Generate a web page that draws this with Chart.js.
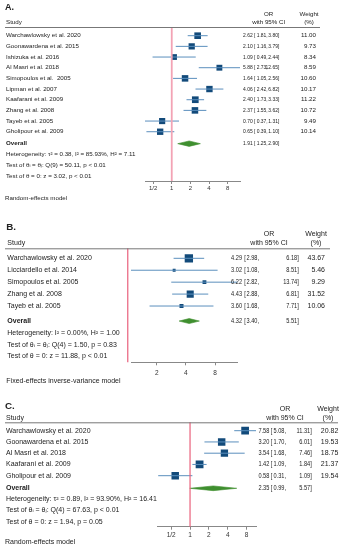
<!DOCTYPE html>
<html lang="en">
<head>
    <meta charset="UTF-8">
    <title>Forest plots</title>
    <script src="https://cdn.jsdelivr.net/npm/chart.js"></script>
    <style>
        body { margin: 0; background: #fff; }
        #wrap { position: relative; width: 345px; height: 550px; }
        canvas { position: absolute; left: 0; top: 0; }
    </style>
</head>
<body>
<div id="wrap">
    <canvas id="panelA" width="345" height="550"></canvas>
    <canvas id="panelB" width="345" height="550"></canvas>
    <canvas id="panelC" width="345" height="550"></canvas>
</div>
<script>
    // --- data: panel A (random-effects) ---
    const studiesA = ['Warchawlowsky et al. 2020', 'Goonawardena et al. 2015', 'Ishizuka et al. 2016', 'Al Masri et al. 2018',
        'Simopoulos et al.  2005', 'Lipman et al. 2007', 'Kaafarani et al. 2009', 'Zhang et al. 2008', 'Tayeb et al. 2005', 'Gholipour et al. 2009'];
    const orA = [2.62, 2.10, 1.09, 5.88, 1.64, 4.06, 2.40, 2.37, 0.70, 0.65];
    const loA = [1.81, 1.16, 0.49, 2.73, 1.05, 2.42, 1.73, 1.55, 0.37, 0.39];
    const hiA = [3.80, 3.79, 2.44, 12.65, 2.56, 6.82, 3.33, 3.62, 1.31, 1.10];
    const weightA = [11.00, 9.73, 8.34, 8.59, 10.60, 10.17, 11.22, 10.72, 9.49, 10.14];
    const overallA = [1.91, 1.25, 2.90];
    const statsA = ['Heterogeneity: \u03c4\u00b2 = 0.38, I\u00b2 = 85.93%, H\u00b2 = 7.11',
        'Test of \u03b8\u1d62 = \u03b8\u2c7c: Q(9) = 50.11, p < 0.01',
        'Test of \u03b8 = 0: z = 3.02, p < 0.01'];
    const ticksA = [0.5, 1, 2, 4, 8];

    // --- data: panel B (fixed-effects) ---
    const studiesB = ['Warchawlowsky et al. 2020', 'Licciardello et al. 2014', 'Simopoulos et al. 2005', 'Zhang et al. 2008', 'Tayeb et al. 2005'];
    const orB = [4.29, 3.02, 6.22, 4.43, 3.60];
    const loB = [2.98, 1.08, 2.82, 2.88, 1.68];
    const hiB = [6.18, 8.51, 13.74, 6.81, 7.71];
    const weightB = [43.67, 5.46, 9.29, 31.52, 10.06];
    const overallB = [4.32, 3.40, 5.51];
    const statsB = ['Heterogeneity: I\u00b2 = 0.00%, H\u00b2 = 1.00',
        'Test of \u03b8\u1d62 = \u03b8\u2c7c: Q(4) = 1.50, p = 0.83',
        'Test of \u03b8 = 0: z = 11.88, p < 0.01'];
    const ticksB = [2, 4, 8];

    // --- data: panel C (random-effects) ---
    const studiesC = ['Warchawlowsky et al. 2020', 'Goonawardena et al. 2015', 'Al Masri et al. 2018', 'Kaafarani et al. 2009', 'Gholipour et al. 2009'];
    const orC = [7.58, 3.20, 3.54, 1.42, 0.58];
    const loC = [5.08, 1.70, 1.68, 1.09, 0.31];
    const hiC = [11.31, 6.01, 7.46, 1.84, 1.09];
    const weightC = [20.82, 19.53, 18.75, 21.37, 19.54];
    const overallC = [2.35, 0.99, 5.57];
    const statsC = ['Heterogeneity: \u03c4\u00b2 = 0.89, I\u00b2 = 93.90%, H\u00b2 = 16.41',
        'Test of \u03b8\u1d62 = \u03b8\u2c7c: Q(4) = 67.63, p < 0.01',
        'Test of \u03b8 = 0: z = 1.94, p = 0.05'];
    const ticksC = [0.5, 1, 2, 4, 8];

    const FONT = '"Liberation Sans", Arial, "DejaVu Sans", sans-serif';
    const TXT = '#222';
    const SQ = '#124a7a';
    const CI = '#5b8fbd';
    const GREEN = '#3f8f2f';
    const AXIS_H = 16;
    const NUM_SX = 0.8; // the CI column is set a bit narrower in the figure

    // layout of each panel on the page (pixels)
    const panels = [
        { id: 'panelA', label: 'A.', studies: studiesA, or: orA, lo: loA, hi: hiA, weight: weightA, overall: overallA, stats: statsA, ticks: ticksA,
          footer: 'Random-effects model', left: 145, right: 240, top: 27, bottom: 181, row0: 35.7, rowGap: 10.67,
          overallGap: 1.12, statOff: [1.0, 2.03, 3.03], diamondHalf: 2.7, sq: 2.0, fs: 6.2, tickFs: 6, tickPad: 1,
          nullColor: '#f3a3b5', nullWidth: 1.8,
          yLabel: 8, yOR: 14, yStudy: 22.7, yFooter: 198.7, lineRight: 320,
          xName: 6, estR: 252.7, brL: 254, loR: 267.7, hiR: 279.3, wR: 316, orC: 268.7, wC: 309 },
        { id: 'panelB', label: 'B.', studies: studiesB, or: orB, lo: loB, hi: hiB, weight: weightB, overall: overallB, stats: statsB, ticks: ticksB,
          footer: 'Fixed-effects inverse-variance model', left: 131, right: 237.7, top: 248.3, bottom: 362.3, row0: 258.3, rowGap: 11.93,
          overallGap: 1.26, statOff: [1.03, 1.98, 2.93], diamondHalf: 2.5, sq: 1.26, fs: 7, tickFs: 6.5, tickPad: 4,
          nullColor: '#e9607c', nullWidth: 1.2,
          yLabel: 227, yOR: 234, yStudy: 243.3, yFooter: 381, lineRight: 330,
          xName: 7.3, estR: 242, brL: 244.3, loR: 259, hiR: 298.7, wR: 325, orC: 269, wC: 316 },
        { id: 'panelC', label: 'C.', studies: studiesC, or: orC, lo: loC, hi: hiC, weight: weightC, overall: overallC, stats: statsC, ticks: ticksC,
          footer: 'Random-effects model', left: 157.3, right: 256, top: 422.3, bottom: 526.7, row0: 430.7, rowGap: 11.25,
          overallGap: 1.12, statOff: [0.95, 1.93, 2.97], diamondHalf: 2.35, sq: 1.69, fs: 7, tickFs: 6.5, tickPad: 1.5,
          nullColor: '#e9607c', nullWidth: 1.2,
          yLabel: 406.7, yOR: 409, yStudy: 418.3, yFooter: 541.7, lineRight: 338,
          xName: 6, estR: 269.3, brL: 270.7, loR: 286, hiR: 311.7, wR: 338.3, orC: 285, wC: 328 }
    ];

    const f2 = v => v.toFixed(2);

    // null line at OR = 1 and all the text columns
    const forestText = {
        id: 'forestText',
        afterDraw(chart, args, p) {
            const ctx = chart.ctx;
            const xs = chart.scales.x, ys = chart.scales.y;
            const n = p.studies.length;
            const oy = n - 1 + p.overallGap;
            ctx.save();

            // null line
            const x1 = xs.getPixelForValue(1);
            ctx.strokeStyle = p.nullColor;
            ctx.lineWidth = p.nullWidth;
            ctx.beginPath();
            ctx.moveTo(x1, chart.chartArea.top);
            ctx.lineTo(x1, chart.chartArea.bottom);
            ctx.stroke();

            // header
            ctx.fillStyle = TXT;
            ctx.textBaseline = 'middle';
            ctx.font = 'bold ' + (p.fs + 2.8) + 'px ' + FONT;
            ctx.textAlign = 'left';
            ctx.fillText(p.label, p.xName - 1, p.yLabel);
            ctx.font = p.fs + 'px ' + FONT;
            ctx.fillText('Study', p.xName, p.yStudy);
            ctx.textAlign = 'center';
            ctx.fillText('OR', p.orC, p.yOR);
            ctx.fillText('with 95% CI', p.orC, p.yStudy);
            ctx.fillText('Weight', p.wC, p.yOR);
            ctx.fillText('(%)', p.wC, p.yStudy);
            ctx.strokeStyle = '#777';
            ctx.lineWidth = 1;
            ctx.beginPath();
            ctx.moveTo(5, p.top + 0.5);
            ctx.lineTo(p.lineRight, p.top + 0.5);
            ctx.stroke();

            const narrow = (t, x, y, align) => {
                ctx.save();
                ctx.translate(x, y);
                ctx.scale(NUM_SX, 1);
                ctx.textAlign = align;
                ctx.fillText(t, 0, 0);
                ctx.restore();
            };
            const ciText = (est, lo, hi, y) => {
                narrow(f2(est), p.estR, y, 'right');
                narrow('[', p.brL, y, 'left');
                narrow(f2(lo) + ',', p.loR, y, 'right');
                narrow(f2(hi) + ']', p.hiR, y, 'right');
            };

            // study rows
            p.studies.forEach((s, i) => {
                const y = ys.getPixelForValue(i);
                ctx.textAlign = 'left';
                ctx.fillText(s, p.xName, y);
                ciText(p.or[i], p.lo[i], p.hi[i], y);
                ctx.textAlign = 'right';
                ctx.fillText(f2(p.weight[i]), p.wR, y);
            });

            // overall
            const yo = ys.getPixelForValue(oy);
            ctx.font = 'bold ' + p.fs + 'px ' + FONT;
            ctx.textAlign = 'left';
            ctx.fillText('Overall', p.xName, yo);
            ctx.font = p.fs + 'px ' + FONT;
            ciText(p.overall[0], p.overall[1], p.overall[2], yo);

            // statistics
            ctx.textAlign = 'left';
            p.stats.forEach((s, k) => ctx.fillText(s, p.xName, ys.getPixelForValue(oy + p.statOff[k])));

            // model note
            ctx.fillText(p.footer, p.xName - 1, p.yFooter);
            ctx.restore();
        }
    };

    function makePanel(p) {
        const n = p.studies.length;
        const oy = n - 1 + p.overallGap;
        const h = p.diamondHalf / p.rowGap;
        const datasets = [];

        // confidence intervals
        p.lo.forEach((lo, i) => {
            datasets.push({
                type: 'line',
                data: [{ x: lo, y: i }, { x: p.hi[i], y: i }],
                borderColor: CI, borderWidth: 1, pointRadius: 0, fill: false
            });
        });

        // study squares, area ~ weight
        datasets.push({
            type: 'scatter',
            data: p.or.map((v, i) => ({ x: v, y: i })),
            pointStyle: 'rect',
            pointRadius: p.weight.map(w => p.sq * Math.sqrt(w) / Math.SQRT2),
            backgroundColor: SQ, borderColor: SQ, borderWidth: 0
        });

        // overall diamond
        const [est, lo, hi] = p.overall;
        datasets.push({
            type: 'line',
            data: [{ x: lo, y: oy }, { x: est, y: oy - h }, { x: hi, y: oy }, { x: est, y: oy + h }, { x: lo, y: oy }],
            fill: 'shape', backgroundColor: GREEN, borderColor: GREEN, borderWidth: 0.6, pointRadius: 0, tension: 0
        });

        const minX = Math.min(...p.lo);
        const maxX = Math.max(...p.hi);
        const yMin = (p.top - p.row0) / p.rowGap;
        const yMax = (p.bottom - p.row0) / p.rowGap;

        new Chart(document.getElementById(p.id).getContext('2d'), {
            type: 'scatter',
            data: { datasets },
            options: {
                responsive: false,
                animation: false,
                devicePixelRatio: 1,
                events: [],
                layout: { padding: { left: p.left, right: 345 - p.right, top: p.top, bottom: 550 - p.bottom - AXIS_H } },
                plugins: { legend: { display: false }, tooltip: { enabled: false }, forestText: p },
                scales: {
                    x: {
                        type: 'logarithmic',
                        min: minX, max: maxX,
                        afterBuildTicks: s => { s.ticks = p.ticks.map(v => ({ value: v })); },
                        afterFit: s => { s.height = AXIS_H; },
                        ticks: {
                            autoSkip: false, maxRotation: 0, padding: p.tickPad,
                            color: '#333', font: { size: p.tickFs, family: FONT },
                            callback: v => (v === 0.5 ? '1/2' : String(v))
                        },
                        grid: { drawOnChartArea: false, drawTicks: true, tickLength: 3, color: '#888' },
                        border: { display: true, color: '#888', width: 1 }
                    },
                    y: { type: 'linear', reverse: true, min: yMin, max: yMax, display: false }
                }
            },
            plugins: [forestText]
        });
    }

    panels.forEach(makePanel);
</script>
</body>
</html>
